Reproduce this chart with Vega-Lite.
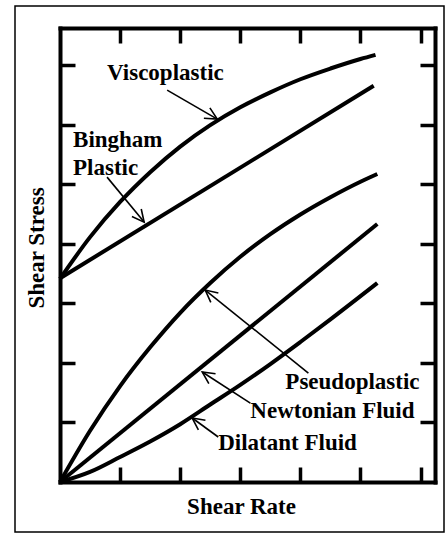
{
  "$schema": "https://vega.github.io/schema/vega-lite/v6.json",
  "width": 429,
  "height": 526,
  "autosize": {"type": "none"},
  "padding": {"left": 15, "top": 6, "right": 4, "bottom": 1},
  "background": "white",
  "config": {
    "view": {"stroke": "black", "strokeWidth": 1.5},
    "axis": {
      "domainColor": "black",
      "domainWidth": 4,
      "domainCap": "square",
      "tickColor": "black",
      "tickWidth": 3.5,
      "tickSize": -15,
      "labels": false,
      "grid": false,
      "titleFont": "Liberation Serif",
      "titleFontWeight": "bold",
      "titleFontSize": 23,
      "titleColor": "black"
    }
  },
  "datasets": {
    "curves": [
      {"s": "V", "x": 0, "y": 3.41}, {"s": "V", "x": 0.5, "y": 4.11}, {"s": "V", "x": 1.0, "y": 4.7},
      {"s": "V", "x": 1.5, "y": 5.2}, {"s": "V", "x": 2.0, "y": 5.63}, {"s": "V", "x": 2.5, "y": 5.99},
      {"s": "V", "x": 3.0, "y": 6.29}, {"s": "V", "x": 3.5, "y": 6.54}, {"s": "V", "x": 4.0, "y": 6.76},
      {"s": "V", "x": 4.5, "y": 6.94}, {"s": "V", "x": 5.0, "y": 7.1}, {"s": "V", "x": 5.25, "y": 7.17},
      {"s": "B", "x": 0, "y": 3.42}, {"s": "B", "x": 5.22, "y": 6.65},
      {"s": "P", "x": 0, "y": 0}, {"s": "P", "x": 0.5, "y": 0.86}, {"s": "P", "x": 1.0, "y": 1.61},
      {"s": "P", "x": 1.5, "y": 2.26}, {"s": "P", "x": 2.0, "y": 2.84}, {"s": "P", "x": 2.5, "y": 3.34},
      {"s": "P", "x": 3.0, "y": 3.78}, {"s": "P", "x": 3.5, "y": 4.16}, {"s": "P", "x": 4.0, "y": 4.49},
      {"s": "P", "x": 4.5, "y": 4.78}, {"s": "P", "x": 5.0, "y": 5.04}, {"s": "P", "x": 5.28, "y": 5.17},
      {"s": "N", "x": 0, "y": 0}, {"s": "N", "x": 5.28, "y": 4.33},
      {"s": "D", "x": 0, "y": 0}, {"s": "D", "x": 0.5, "y": 0.17}, {"s": "D", "x": 1.0, "y": 0.42},
      {"s": "D", "x": 1.5, "y": 0.68}, {"s": "D", "x": 2.0, "y": 0.97}, {"s": "D", "x": 2.5, "y": 1.3},
      {"s": "D", "x": 3.0, "y": 1.63}, {"s": "D", "x": 3.5, "y": 1.98}, {"s": "D", "x": 4.0, "y": 2.35},
      {"s": "D", "x": 4.5, "y": 2.73}, {"s": "D", "x": 5.28, "y": 3.34}
    ],
    "arrows": [
      {"x": 2.617, "y": 6.091, "x2": 1.783, "y2": 6.577, "a": 30},
      {"x": 1.4, "y": 4.362, "x2": 0.783, "y2": 5.117, "a": 51},
      {"x": 2.417, "y": 3.221, "x2": 4.133, "y2": 1.829, "a": 219},
      {"x": 2.367, "y": 1.846, "x2": 3.167, "y2": 1.325, "a": 214},
      {"x": 2.2, "y": 1.074, "x2": 2.633, "y2": 0.755, "a": 216}
    ],
    "labels": [
      {"x": 0.783, "y": 6.745, "t": "Viscoplastic"},
      {"x": 0.217, "y": 5.62, "t": "Bingham"},
      {"x": 0.217, "y": 5.15, "t": "Plastic"},
      {"x": 3.75, "y": 1.56, "t": "Pseudoplastic"},
      {"x": 3.167, "y": 1.074, "t": "Newtonian Fluid"},
      {"x": 2.633, "y": 0.537, "t": "Dilatant Fluid"}
    ]
  },
  "layer": [
    {
      "encoding": {
        "x": {
          "field": "x", "type": "quantitative",
          "scale": {"domain": [0, 6.24], "range": [45, 420], "nice": false, "zero": false},
          "axis": {"orient": "bottom", "offset": -50, "values": [1, 2, 3, 4, 5, 6], "title": "Shear Rate", "titleX": 226, "titleY": 31, "titleBaseline": "alphabetic"}
        },
        "y": {
          "field": "y", "type": "quantitative",
          "scale": {"domain": [0, 7.62], "range": [476, 22], "nice": false, "zero": false},
          "axis": {"orient": "left", "offset": -45, "values": [1, 2, 3, 4, 5, 6, 7], "title": "Shear Stress", "titleX": -17, "titleY": 241.5, "titleBaseline": "alphabetic"}
        }
      },
      "layer": [
        {
          "data": {"name": "curves"},
          "mark": {"type": "line", "stroke": "black", "strokeWidth": 4, "interpolate": "monotone"},
          "encoding": {"detail": {"field": "s"}}
        },
        {
          "data": {"name": "arrows"},
          "mark": {"type": "rule", "stroke": "black", "strokeWidth": 1.6},
          "encoding": {"x2": {"field": "x2"}, "y2": {"field": "y2"}}
        },
        {
          "data": {"name": "arrows"},
          "mark": {"type": "point", "shape": "M-1,-0.5L0,0L-1,0.5", "filled": false, "stroke": "black", "strokeWidth": 1.6, "size": 576, "opacity": 1},
          "encoding": {"angle": {"field": "a", "type": "quantitative", "scale": null}}
        },
        {
          "data": {"name": "labels"},
          "mark": {"type": "text", "font": "Liberation Serif", "fontWeight": "bold", "fontSize": 23, "align": "left", "baseline": "alphabetic", "color": "black"},
          "encoding": {"text": {"field": "t"}}
        }
      ]
    },
    {
      "data": {"name": "labels"},
      "mark": {"type": "point", "opacity": 0},
      "encoding": {
        "x": {
          "field": "x", "type": "quantitative",
          "scale": {"domain": [0, 6.24], "range": [45, 420], "nice": false, "zero": false},
          "axis": {"orient": "top", "offset": -22, "values": [1, 2, 3, 4, 5, 6], "title": null}
        },
        "y": {
          "field": "y", "type": "quantitative",
          "scale": {"domain": [0, 7.62], "range": [476, 22], "nice": false, "zero": false},
          "axis": {"orient": "right", "offset": -9, "values": [1, 2, 3, 4, 5, 6, 7], "title": null}
        }
      }
    }
  ],
  "resolve": {"axis": {"x": "independent", "y": "independent"}}
}
